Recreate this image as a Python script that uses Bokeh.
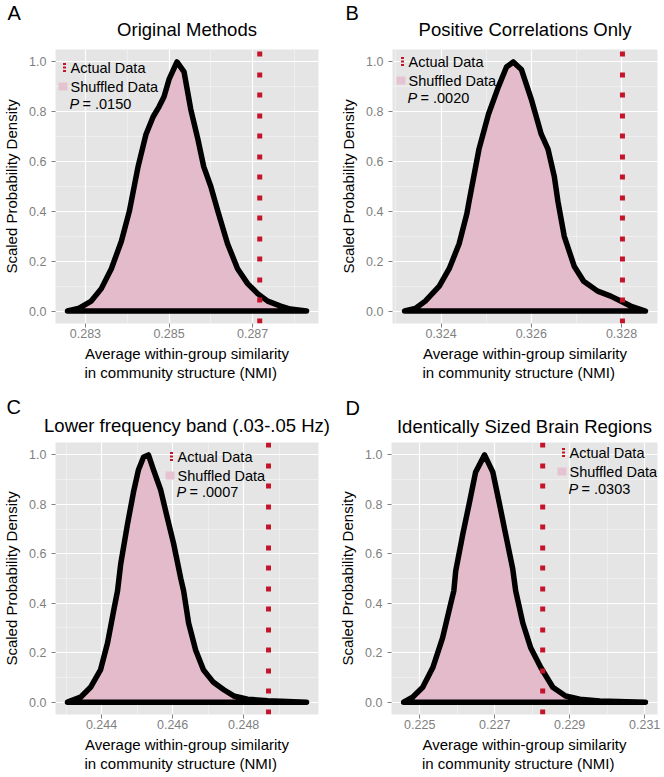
from bokeh.plotting import figure
from bokeh.layouts import column, row
from bokeh.models import (FixedTicker, NumeralTickFormatter, Range1d, Label,
                          BoxAnnotation, LinearAxis)
from bokeh.embed import file_html
from bokeh.resources import INLINE

FONT = "Liberation Sans"
BG = "#E5E5E5"
PINK = "#E3BBCB"
PINK_KEY = "#E6C3D1"
RED = "#C4142A"
NB = "\u00a0"

# ---------------- data ----------------
panel_letters = ["A", "B", "C", "D"]
panel_titles = ["Original Methods", "Positive Correlations Only",
                "Lower frequency band (.03-.05 Hz)", "Identically Sized Brain Regions"]
p_values = [".0150", ".0020", ".0007", ".0303"]
actual_nmi = [0.28717, 0.32802, 0.24870, 0.22828]
legend_labels = ["Actual Data", "Shuffled Data"]
x_axis_title = "Average within-group similarity\nin community structure (NMI)" + NB * 3
y_axis_title = "Scaled Probability Density"

nmi_a = [0.28257, 0.28283, 0.28314, 0.28338, 0.28362, 0.28386, 0.28405, 0.28426,
         0.28445, 0.28462, 0.28476, 0.28488, 0.28500, 0.28519, 0.28536, 0.28552,
         0.28569, 0.28583, 0.28600, 0.28617, 0.28640, 0.28664, 0.28688, 0.28712,
         0.28736, 0.28767, 0.28790, 0.28829]
dens_a = [0.0, 0.01, 0.04, 0.09, 0.17, 0.28, 0.40, 0.58,
          0.71, 0.78, 0.82, 0.86, 0.93, 1.0, 0.96, 0.81,
          0.69, 0.58, 0.50, 0.40, 0.27, 0.17, 0.11, 0.07,
          0.04, 0.02, 0.008, 0.0]

nmi_b = [0.32319, 0.32343, 0.32365, 0.32396, 0.32418, 0.32440, 0.32457, 0.32462,
         0.32484, 0.32505, 0.32527, 0.32545, 0.32560, 0.32578, 0.32600, 0.32622,
         0.32637, 0.32651, 0.32659, 0.32673, 0.32695, 0.32716, 0.32747, 0.32776,
         0.32798, 0.32820, 0.32853]
dens_b = [0.0, 0.01, 0.04, 0.10, 0.17, 0.27, 0.39, 0.44,
          0.65, 0.79, 0.90, 0.98, 1.0, 0.97, 0.85, 0.71,
          0.65, 0.54, 0.44, 0.30, 0.18, 0.12, 0.08, 0.06,
          0.04, 0.02, 0.0]

nmi_c = [0.24304, 0.24341, 0.24369, 0.24397, 0.24417, 0.24434, 0.24445, 0.24454,
         0.24473, 0.24490, 0.24504, 0.24518, 0.24532, 0.24546, 0.24566, 0.24586,
         0.24603, 0.24623, 0.24631, 0.24645, 0.24665, 0.24687, 0.24715, 0.24744,
         0.24772, 0.24811, 0.24868, 0.24977]
dens_c = [0.0, 0.02, 0.06, 0.13, 0.24, 0.37, 0.45, 0.56,
          0.72, 0.85, 0.94, 0.99, 1.0, 0.94, 0.86, 0.74,
          0.64, 0.50, 0.45, 0.32, 0.21, 0.13, 0.08, 0.05,
          0.025, 0.012, 0.006, 0.0]

nmi_d = [0.22457, 0.22481, 0.22508, 0.22535, 0.22561, 0.22583, 0.22591, 0.22596,
         0.22615, 0.22633, 0.22649, 0.22673, 0.22695, 0.22713, 0.22729, 0.22748,
         0.22756, 0.22775, 0.22796, 0.22823, 0.22855, 0.22889, 0.22927, 0.22980,
         0.23102]
dens_d = [0.0, 0.02, 0.06, 0.14, 0.26, 0.40, 0.45, 0.53,
          0.68, 0.81, 0.93, 1.0, 0.93, 0.80, 0.68, 0.54,
          0.45, 0.32, 0.22, 0.14, 0.06, 0.025, 0.012, 0.005,
          0.0]

x_major = [[0.283, 0.285, 0.287], [0.324, 0.326, 0.328],
           [0.244, 0.246, 0.248], [0.225, 0.227, 0.229, 0.231]]
x_minor = [[0.282, 0.284, 0.286, 0.288], [0.323, 0.325, 0.327, 0.329],
           [0.243, 0.245, 0.247, 0.249], [0.224, 0.226, 0.228, 0.230]]
y_major = [0.0, 0.2, 0.4, 0.6, 0.8, 1.0]
y_minor = [0.1, 0.3, 0.5, 0.7, 0.9]

# ---------------- layout (pixels) ----------------
layouts = [
    dict(w=332, h=390, bl=54, br=14, bt=49, fh=274, letter_x=6, letter_up=27,
         title_so=10, leg_x=15, rows=(18, 37, 54)),
    dict(w=332, h=390, bl=60, br=7, bt=49, fh=274, letter_x=13, letter_up=27,
         title_so=10, leg_x=16, rows=(12, 31, 48)),
    dict(w=332, h=387, bl=55, br=14, bt=52, fh=272, letter_x=6, letter_up=26.5,
         title_so=7, leg_x=122, rows=(14, 33, 49)),
    dict(w=332, h=387, bl=59, br=7, bt=52, fh=272, letter_x=13, letter_up=25,
         title_so=6, leg_x=178, rows=(10, 29, 46)),
]


def add_text(p, x, y, text, size, style="normal", align="left", baseline="middle"):
    p.add_layout(Label(x=x, y=y, x_units="screen", y_units="screen", text=text,
                       text_font=FONT, text_font_size=size, text_font_style=style,
                       text_align=align, text_baseline=baseline, text_color="black"))


def add_box(p, left, right, bottom, top, color):
    p.add_layout(BoxAnnotation(left=left, right=right, bottom=bottom, top=top,
                               left_units="screen", right_units="screen",
                               bottom_units="screen", top_units="screen",
                               fill_color=color, fill_alpha=1.0, line_color=None))


def make_panel(i, xs, ds):
    L = layouts[i]
    fh = L["fh"]
    span = max(xs) - min(xs)
    dmax = max(ds)
    p = figure(width=L["w"], height=L["h"],
               x_range=Range1d(min(xs) - 0.05 * span, max(xs) + 0.05 * span),
               y_range=Range1d(-0.05 * dmax, 1.05 * dmax),
               output_backend="svg", toolbar_location=None,
               min_border_left=L["bl"], min_border_right=L["br"],
               min_border_top=L["bt"], min_border_bottom=L["h"] - L["bt"] - fh,
               background_fill_color=BG, border_fill_color="white",
               outline_line_color=None)

    p.patch(xs, ds, fill_color=PINK, line_color="black", line_width=5.5,
            line_join="round")
    p.segment(x0=[actual_nmi[i]], y0=[p.y_range.start], x1=[actual_nmi[i]],
              y1=[p.y_range.end], line_color=RED, line_width=5,
              line_dash="5 16 5 15", line_cap="butt")

    p.xaxis.ticker = FixedTicker(ticks=x_major[i], minor_ticks=x_minor[i])
    p.yaxis.ticker = FixedTicker(ticks=y_major, minor_ticks=y_minor)
    p.xaxis.formatter = NumeralTickFormatter(format="0.000")
    p.yaxis.formatter = NumeralTickFormatter(format="0.0")
    for ax in (p.xaxis[0], p.yaxis[0]):
        ax.axis_line_color = None
        ax.major_tick_line_color = "#7F7F7F"
        ax.major_tick_out = 4
        ax.major_tick_in = 0
        ax.minor_tick_line_color = None
        ax.major_label_text_font = FONT
        ax.major_label_text_font_size = "12.5px"
        ax.major_label_text_color = "#7F7F7F"
        ax.axis_label_text_font = FONT
        ax.axis_label_text_font_size = "15px"
        ax.axis_label_text_font_style = "normal"
        ax.axis_label_text_color = "black"
    p.xaxis.axis_label = x_axis_title
    p.xaxis.major_label_standoff = 1
    p.xaxis.axis_label_standoff = 4
    p.xaxis.axis_label_text_line_height = 1.15
    p.yaxis.axis_label = y_axis_title
    p.yaxis.major_label_standoff = 5
    p.yaxis.axis_label_standoff = 6
    for g in (p.xgrid[0], p.ygrid[0]):
        g.grid_line_color = "white"
        g.grid_line_width = 1.2
        g.minor_grid_line_color = "#F3F3F3"
        g.minor_grid_line_width = 0.7

    # panel title drawn as the label of a bare axis above the panel
    tax = LinearAxis(ticker=FixedTicker(ticks=[]), axis_label=panel_titles[i],
                     axis_line_color=None, major_tick_line_color=None,
                     minor_tick_line_color=None, major_tick_out=0, major_tick_in=0,
                     minor_tick_out=0, minor_tick_in=0,
                     major_label_text_font_size="0px", major_label_standoff=0,
                     axis_label_standoff=L["title_so"], axis_label_text_font=FONT,
                     axis_label_text_font_size="18.5px",
                     axis_label_text_font_style="normal",
                     axis_label_text_color="black")
    p.add_layout(tax, "above")

    # panel letter as the plot title (outermost), pulled down toward the title
    axis_h = L["title_so"] + 1.15 * 18.5
    s2 = int(round(2 * ((L["letter_up"] - 0.21 * 20) - axis_h)))
    p.title.text = panel_letters[i]
    p.title.align = "left"
    p.title.offset = L["letter_x"] - L["bl"]
    p.title.standoff = s2
    p.title.vertical_align = "bottom"
    p.title.text_font = FONT
    p.title.text_font_size = "20px"
    p.title.text_font_style = "normal"
    p.title.text_color = "black"

    # legend
    tx = L["leg_x"]
    r0, r1, r2 = L["rows"]
    for k in (-3.5, 0.0, 3.5):
        add_box(p, tx - 7.5, tx - 4.5, fh - r0 + k - 1.1, fh - r0 + k + 1.1, RED)
    add_box(p, tx - 12, tx - 3, fh - r1 - 4, fh - r1 + 4, PINK_KEY)
    add_text(p, tx, fh - r0, legend_labels[0], "14.5px")
    add_text(p, tx, fh - r1, legend_labels[1], "14.5px")
    add_text(p, tx - 1, fh - r2, "P", "14.5px", style="italic")
    add_text(p, tx + 12, fh - r2, "= " + p_values[i], "14.5px")
    return p


pa = make_panel(0, nmi_a, dens_a)
pb = make_panel(1, nmi_b, dens_b)
pc = make_panel(2, nmi_c, dens_c)
pd = make_panel(3, nmi_d, dens_d)

layout = column(row(pa, pb), row(pc, pd))
open("out.html", "w").write(file_html(layout, INLINE))
